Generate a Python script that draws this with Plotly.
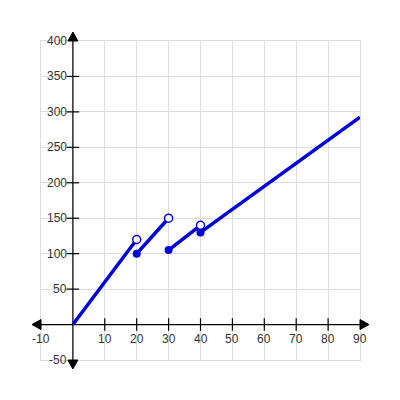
import plotly.graph_objects as go

# Piecewise segments (x0, y0) -> (x1, y1)
seg_x0 = [0, 20, 30, 40]
seg_y0 = [0, 100, 105, 130]
seg_x1 = [20, 30, 40, 90]
seg_y1 = [120, 150, 140, 292.5]

open_x = [20, 30, 40]
open_y = [120, 150, 140]
closed_x = [20, 30, 40]
closed_y = [100, 105, 130]

x_ticks = [-10, 10, 20, 30, 40, 50, 60, 70, 80, 90]
y_ticks = [-50, 50, 100, 150, 200, 250, 300, 350, 400]
x_range = [-10, 90]
y_range = [-50, 400]

BLUE = "#0000dd"
FONT = dict(family="Arial", size=12, color="#333")
fig = go.Figure()

# axis lines
fig.add_trace(go.Scatter(x=[x_range[0], x_range[1]], y=[0, 0], mode="lines",
                         line=dict(color="black", width=1.2), hoverinfo="skip", cliponaxis=False))
fig.add_trace(go.Scatter(x=[0, 0], y=[y_range[0], y_range[1]], mode="lines",
                         line=dict(color="black", width=1.2), hoverinfo="skip", cliponaxis=False))
# tick marks on axes
fig.add_trace(go.Scatter(x=x_ticks[1:-1], y=[0] * (len(x_ticks) - 2), mode="markers",
                         marker=dict(symbol="line-ns", size=9, line=dict(color="black", width=1.2)),
                         hoverinfo="skip", cliponaxis=False))
fig.add_trace(go.Scatter(x=[0] * (len(y_ticks) - 2), y=y_ticks[1:-1], mode="markers",
                         marker=dict(symbol="line-ew", size=9, line=dict(color="black", width=1.2)),
                         hoverinfo="skip", cliponaxis=False))

# arrow heads (pixel-sized shapes anchored at axis ends; paper refs avoid clipping)
arrow_style = dict(type="path", xsizemode="pixel", ysizemode="pixel",
                   fillcolor="black", line=dict(color="black", width=1), layer="above")
fig.add_shape(xref="paper", yref="y", xanchor=1, yanchor=0, path="M0,-5 L0,5 L9,0 Z", **arrow_style)
fig.add_shape(xref="paper", yref="y", xanchor=0, yanchor=0, path="M0,-5 L0,5 L-9,0 Z", **arrow_style)
fig.add_shape(xref="x", yref="paper", xanchor=0, yanchor=1, path="M-5,0 L5,0 L0,9 Z", **arrow_style)
fig.add_shape(xref="x", yref="paper", xanchor=0, yanchor=0, path="M-5,0 L5,0 L0,-9 Z", **arrow_style)

# tick labels
for v in x_ticks:
    fig.add_annotation(x=v, y=0, xref="x", yref="y", text=str(v), showarrow=False,
                       xanchor="center", yanchor="middle", yshift=-14, font=FONT)
for v in y_ticks:
    fig.add_annotation(x=0, y=v, xref="x", yref="y", text=str(v), showarrow=False,
                       xanchor="right", yanchor="middle", xshift=-4, font=FONT)

# segments
sx, sy = [], []
for a, b, c, d in zip(seg_x0, seg_y0, seg_x1, seg_y1):
    sx += [a, c, None]
    sy += [b, d, None]
fig.add_trace(go.Scatter(x=sx, y=sy, mode="lines", line=dict(color=BLUE, width=3.5), hoverinfo="skip",
                         cliponaxis=False))
fig.add_trace(go.Scatter(x=closed_x, y=closed_y, mode="markers",
                         marker=dict(size=8, color=BLUE), hoverinfo="skip", cliponaxis=False))
fig.add_trace(go.Scatter(x=open_x, y=open_y, mode="markers",
                         marker=dict(size=8, color="white", line=dict(color=BLUE, width=1.5)),
                         hoverinfo="skip", cliponaxis=False))

fig.update_layout(
    width=400, height=400, showlegend=False,
    margin=dict(l=33, r=48, t=33, b=48),
    paper_bgcolor="white", plot_bgcolor="white",
    xaxis=dict(range=x_range, dtick=10, tick0=0, showgrid=True, gridcolor="#dddddd", gridwidth=1,
               zeroline=False, showticklabels=False, ticks="", showline=True, linecolor="#dddddd",
               mirror=True, fixedrange=True),
    yaxis=dict(range=y_range, dtick=50, tick0=0, showgrid=True, gridcolor="#dddddd", gridwidth=1,
               zeroline=False, showticklabels=False, ticks="", showline=True, linecolor="#dddddd",
               mirror=True, fixedrange=True),
)
fig.write_html("out.html")
